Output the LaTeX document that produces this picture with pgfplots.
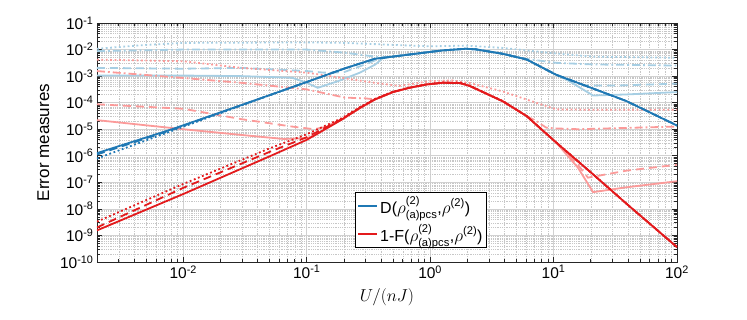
\documentclass[border=0pt]{standalone}
\usepackage[no-math]{fontspec}
\setmainfont{Liberation Sans}
\usepackage{amsmath}
\usepackage{pgfplots}
\pgfplotsset{compat=1.18}

\definecolor{dblue}{HTML}{1F78B4}
\definecolor{lblue}{HTML}{A6CEE3}
\definecolor{dred}{HTML}{E31A1C}
\definecolor{lred}{HTML}{FB9A99}

\pgfplotsset{
  sdot/.style={dash pattern=on 1.8pt off 2.6pt},
  sdash/.style={dash pattern=on 8pt off 5pt},
  sdashdot/.style={dash pattern=on 8pt off 3pt on 1.8pt off 3pt},
}

\begin{document}
\begin{tikzpicture}
\useasboundingbox (-97pt,-58pt) rectangle (650pt,262pt);
\begin{axis}[
  at={(0,0)}, anchor=south west,
  scale only axis, width=580pt, height=239pt,
  xmode=log, ymode=log,
  xmin=0.002, xmax=100, ymin=1e-10, ymax=1e-1,
  xtick={0.01,0.1,1,10,100},
  xticklabels={10\textsuperscript{-2},10\textsuperscript{-1},10\textsuperscript{0},10\textsuperscript{1},10\textsuperscript{2}},
  ytick={1e-10,1e-9,1e-8,1e-7,1e-6,1e-5,1e-4,1e-3,1e-2,1e-1},
  yticklabels={10\textsuperscript{-10},10\textsuperscript{-9},10\textsuperscript{-8},10\textsuperscript{-7},10\textsuperscript{-6},10\textsuperscript{-5},10\textsuperscript{-4},10\textsuperscript{-3},10\textsuperscript{-2},10\textsuperscript{-1}},
  minor xtick={3e-3,4e-3,5e-3,6e-3,7e-3,8e-3,9e-3,
    2e-2,3e-2,4e-2,5e-2,6e-2,7e-2,8e-2,9e-2,
    0.2,0.3,0.4,0.5,0.6,0.7,0.8,0.9,
    2,3,4,5,6,7,8,9,
    20,30,40,50,60,70,80,90},
  minor ytick={2e-10,3e-10,4e-10,5e-10,6e-10,7e-10,8e-10,9e-10,
    2e-9,3e-9,4e-9,5e-9,6e-9,7e-9,8e-9,9e-9,
    2e-8,3e-8,4e-8,5e-8,6e-8,7e-8,8e-8,9e-8,
    2e-7,3e-7,4e-7,5e-7,6e-7,7e-7,8e-7,9e-7,
    2e-6,3e-6,4e-6,5e-6,6e-6,7e-6,8e-6,9e-6,
    2e-5,3e-5,4e-5,5e-5,6e-5,7e-5,8e-5,9e-5,
    2e-4,3e-4,4e-4,5e-4,6e-4,7e-4,8e-4,9e-4,
    2e-3,3e-3,4e-3,5e-3,6e-3,7e-3,8e-3,9e-3,
    2e-2,3e-2,4e-2,5e-2,6e-2,7e-2,8e-2,9e-2},
  grid=both,
  major grid style={black!18, line width=0.7pt},
  minor grid style={black!22, line width=0.4pt, dash pattern=on 0.6pt off 1.2pt},
  axis line style={black!85, line width=0.7pt},
  tick style={black!85, line width=0.6pt},
  major tick length=5pt, minor tick length=3pt,
  tick label style={font=\fontsize{15.5}{17}\selectfont},
  label style={font=\fontsize{17}{19}\selectfont},
  xlabel={$U/(nJ)$},
  xlabel style={yshift=-3pt},
  ylabel={Error measures},
  ylabel style={yshift=4pt},
  legend style={at={(0.445,0.059)}, anchor=south west, draw=black, line width=0.6pt,
    fill=white, font=\fontsize{16}{18}\selectfont, inner xsep=2pt, inner ysep=3pt,
    row sep=6pt},
  legend cell align=left,
  legend image code/.code={\draw[#1] (0pt,0pt) -- (19pt,0pt);},
  every axis plot/.append style={line width=1.8pt},
]
% light blue
\addplot[lblue, sdot, forget plot] coordinates {(0.002,1.07e-2)(0.005,1.5e-2)(0.01,1.78e-2)(0.1,1.86e-2)(0.204,1.78e-2)(0.5,1.5e-2)(1,1.32e-2)(1.95,1.41e-2)(3.89,1.15e-2)(10.5,7.1e-3)(20.9,5.4e-3)(100,4.9e-3)};
\addplot[lblue, sdashdot, forget plot] coordinates {(0.002,8.7e-3)(0.01,1e-2)(0.1,1e-2)(0.204,7.6e-3)(0.407,5.0e-3)(0.678,6.5e-3)(1.26,9.3e-3)(1.95,1.07e-2)(2.34,1.02e-2)(3.89,6.9e-3)(5.5,4.7e-3)(10.5,3.16e-3)(20.9,2.75e-3)(100,2.5e-3)};
\addplot[lblue, sdash, forget plot] coordinates {(0.002,2.04e-3)(0.01,1.9e-3)(0.0295,2.04e-3)(0.1,1.55e-3)(0.138,1.35e-3)(0.2,1.4e-3)(0.3,2.8e-3)(0.407,5.0e-3)(0.678,6.5e-3)(1.26,9.3e-3)(1.95,1.07e-2)(2.34,1.02e-2)(3.89,6.9e-3)(6.03,4.27e-3)(10.5,1.12e-3)(17.8,4.5e-4)(31.6,4.4e-4)(100,5.2e-4)};
\addplot[lblue, forget plot] coordinates {(0.002,1.05e-3)(0.01,1.05e-3)(0.0295,1e-3)(0.076,8.7e-4)(0.1,5.6e-4)(0.123,3.63e-4)(0.18,6.5e-4)(0.27,1.35e-3)(0.36,2.75e-3)(0.42,5.0e-3)(0.678,6.5e-3)(1.26,9.3e-3)(1.95,1.07e-2)(2.34,1.02e-2)(3.89,6.9e-3)(6.03,4.27e-3)(10.5,1.12e-3)(12.6,7.6e-4)(20.9,1.86e-4)(38.9,2.04e-4)(100,2.5e-4)};
% light red
\addplot[lred, sdot, forget plot] coordinates {(0.002,4.17e-3)(0.01,3.63e-3)(0.0295,2.04e-3)(0.1,1.35e-3)(0.355,5.6e-4)(0.56,4.27e-4)(1,6.5e-4)(1.5,6.9e-4)(2.09,5.5e-4)(3.89,2.63e-4)(6.03,1.32e-4)(10.5,5.6e-5)(20.9,5.4e-5)(100,5.4e-5)};
\addplot[lred, sdashdot, forget plot] coordinates {(0.002,1.55e-3)(0.01,8.5e-4)(0.0295,5.6e-4)(0.1,3.16e-4)(0.204,1.55e-4)(0.3,1.45e-4)(0.357,1.32e-4)(0.5,2.5e-4)(0.678,3.63e-4)(0.95,4.9e-4)(1.26,5.6e-4)(1.74,5.5e-4)(2.09,4.27e-4)(3.89,1.12e-4)(6.03,3.16e-5)(7.24,2.04e-5)(8.71,1.15e-5)(10.5,1.07e-5)(15.8,1e-5)(100,1.26e-5)};
\addplot[lred, sdash, forget plot] coordinates {(0.002,8.7e-5)(0.01,5.9e-5)(0.0295,2.4e-5)(0.076,1.26e-5)(0.115,1e-5)(0.14,1.2e-5)(0.192,2.3e-5)(0.27,6.3e-5)(0.357,1.32e-4)(0.5,2.5e-4)(0.678,3.63e-4)(0.95,4.9e-4)(1.26,5.6e-4)(1.74,5.5e-4)(2.09,4.27e-4)(3.89,1.12e-4)(6.03,3.16e-5)(10.5,3.16e-6)(15.8,4.5e-7)(19,1.5e-7)(38.9,2.75e-7)(100,4.6e-7)};
\addplot[lred, forget plot] coordinates {(0.002,2.2e-5)(0.01,1e-5)(0.0355,5.6e-6)(0.065,4.3e-6)(0.1,4.6e-6)(0.115,5.7e-6)(0.192,2.3e-5)(0.27,6.3e-5)(0.357,1.32e-4)(0.5,2.5e-4)(0.678,3.63e-4)(0.95,4.9e-4)(1.26,5.6e-4)(1.74,5.5e-4)(2.09,4.27e-4)(3.89,1.12e-4)(6.03,3.16e-5)(10.5,3.16e-6)(15.8,3.5e-7)(20.9,4.27e-8)(38.9,6.5e-8)(100,1.1e-7)};
% dark blue
\addplot[dblue, sdash, forget plot] coordinates {(0.002,1.12e-6)(0.0081,9.5e-6)(0.0295,8e-5)(0.1,6.0e-4)(0.2,1.9e-3)(0.355,4.47e-3)(0.45,5.1e-3)(0.678,6.5e-3)(1.26,9.3e-3)(1.95,1.07e-2)(2.34,1.02e-2)(3.89,6.9e-3)(6.03,4.27e-3)(10.5,1.12e-3)(20.9,3.4e-4)(38.9,1.15e-4)(100,1.38e-5)};
\addplot[dblue, sdot, forget plot] coordinates {(0.002,7.9e-7)(0.0081,8.7e-6)(0.0295,7.8e-5)(0.1,6.0e-4)(0.2,1.9e-3)(0.355,4.47e-3)(0.45,5.1e-3)(0.678,6.5e-3)(1.26,9.3e-3)(1.95,1.07e-2)(2.34,1.02e-2)(3.89,6.9e-3)(6.03,4.27e-3)(10.5,1.12e-3)(20.9,3.4e-4)(38.9,1.15e-4)(100,1.38e-5)};
\addplot[dblue] coordinates {(0.002,1.26e-6)(0.0081,1e-5)(0.0295,8.1e-5)(0.1,6.0e-4)(0.2,1.9e-3)(0.355,4.47e-3)(0.45,5.1e-3)(0.678,6.5e-3)(1.26,9.3e-3)(1.95,1.07e-2)(2.34,1.02e-2)(3.89,6.9e-3)(6.03,4.27e-3)(10.5,1.12e-3)(20.9,3.4e-4)(38.9,1.15e-4)(100,1.38e-5)};
\addlegendentry{D($\rho^{\text{(2)}}_{\text{(a)pcs}}$,$\rho^{\text{(2)}}$)}
% dark red
\addplot[dred, sdash, forget plot] coordinates {(0.002,2.0e-9)(0.01,6.2e-8)(0.05,1.4e-6)(0.1,5.0e-6)(0.192,2.4e-5)(0.27,6.5e-5)(0.357,1.35e-4)(0.5,2.55e-4)(0.678,3.63e-4)(0.95,4.9e-4)(1.26,5.6e-4)(1.74,5.5e-4)(2.09,4.27e-4)(3.89,1.12e-4)(6.03,3.16e-5)(10.5,3.16e-6)(20.9,2e-7)(38.9,1.58e-8)(100,3.63e-10)};
\addplot[dred, sdot, forget plot] coordinates {(0.002,3.31e-9)(0.01,8.7e-8)(0.05,1.9e-6)(0.1,6.46e-6)(0.192,2.6e-5)(0.27,6.8e-5)(0.357,1.38e-4)(0.5,2.6e-4)(0.678,3.7e-4)(0.95,5.0e-4)(1.26,5.8e-4)(1.74,5.7e-4)(2.09,4.4e-4)(3.89,1.15e-4)(6.03,3.16e-5)(10.5,3.16e-6)(20.9,2e-7)(38.9,1.58e-8)(100,3.63e-10)};
\addplot[dred] coordinates {(0.002,1.55e-9)(0.01,3.63e-8)(0.05,9.5e-7)(0.1,3.98e-6)(0.192,2.3e-5)(0.27,6.3e-5)(0.357,1.32e-4)(0.5,2.5e-4)(0.678,3.63e-4)(0.95,4.9e-4)(1.26,5.6e-4)(1.74,5.5e-4)(2.09,4.27e-4)(3.89,1.12e-4)(6.03,3.16e-5)(10.5,3.16e-6)(20.9,2e-7)(38.9,1.58e-8)(100,3.63e-10)};
\addlegendentry{1-F($\rho^{\text{(2)}}_{\text{(a)pcs}}$,$\rho^{\text{(2)}}$)}
\end{axis}
\end{tikzpicture}
\end{document}
